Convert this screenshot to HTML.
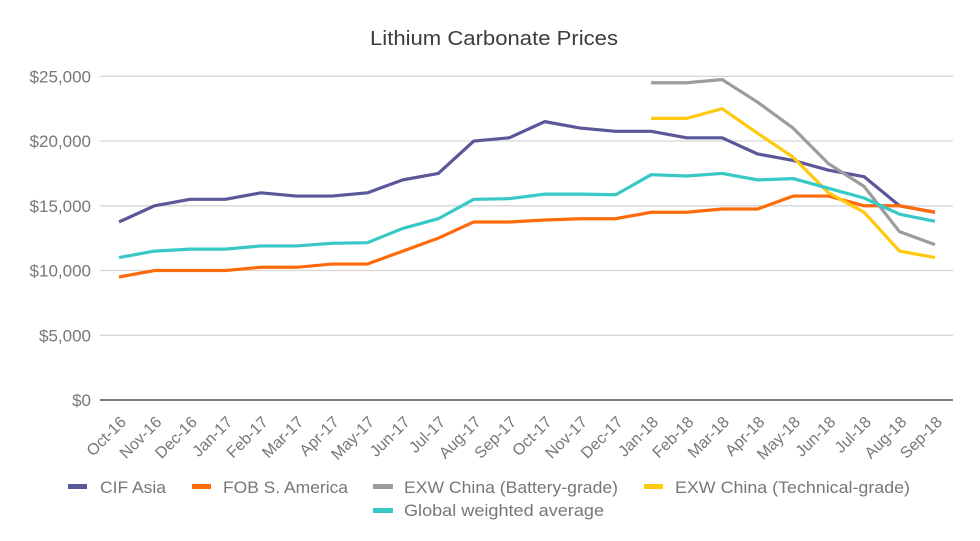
<!DOCTYPE html>
<html>
<head>
<meta charset="utf-8">
<style>
html,body{margin:0;padding:0;background:#fff;}
svg{display:block;font-family:"Liberation Sans",Arial,sans-serif;}
</style>
</head>
<body>
<svg width="980" height="541" viewBox="0 0 980 541" xmlns="http://www.w3.org/2000/svg">
<rect width="980" height="541" fill="#fff"/>
<text x="494" y="45" text-anchor="middle" font-size="20" fill="#3c3c3c" textLength="248" lengthAdjust="spacingAndGlyphs">Lithium Carbonate Prices</text>

<!-- gridlines -->
<g stroke="#d6d6d6" stroke-width="1.3">
<line x1="100" y1="76.3" x2="953" y2="76.3"/>
<line x1="100" y1="141" x2="953" y2="141"/>
<line x1="100" y1="205.8" x2="953" y2="205.8"/>
<line x1="100" y1="270.5" x2="953" y2="270.5"/>
<line x1="100" y1="335.3" x2="953" y2="335.3"/>
</g>
<line x1="100" y1="400" x2="953" y2="400" stroke="#7a7a7a" stroke-width="2"/>

<!-- y labels -->
<g font-size="17" fill="#777" text-anchor="end">
<text x="91" y="82.5">$25,000</text>
<text x="91" y="147.2">$20,000</text>
<text x="91" y="212">$15,000</text>
<text x="91" y="276.7">$10,000</text>
<text x="91" y="341.5">$5,000</text>
<text x="91" y="406.2">$0</text>
</g>

<!-- x labels -->
<g font-size="16" fill="#777" text-anchor="end">
<text transform="translate(127,423) rotate(-45)">Oct-16</text>
<text transform="translate(162.5,423) rotate(-45)">Nov-16</text>
<text transform="translate(198,423) rotate(-45)">Dec-16</text>
<text transform="translate(233.4,423) rotate(-45)">Jan-17</text>
<text transform="translate(268.9,423) rotate(-45)">Feb-17</text>
<text transform="translate(304.4,423) rotate(-45)">Mar-17</text>
<text transform="translate(339.9,423) rotate(-45)">Apr-17</text>
<text transform="translate(375.3,423) rotate(-45)">May-17</text>
<text transform="translate(410.8,423) rotate(-45)">Jun-17</text>
<text transform="translate(446.3,423) rotate(-45)">Jul-17</text>
<text transform="translate(481.8,423) rotate(-45)">Aug-17</text>
<text transform="translate(517.3,423) rotate(-45)">Sep-17</text>
<text transform="translate(552.7,423) rotate(-45)">Oct-17</text>
<text transform="translate(588.2,423) rotate(-45)">Nov-17</text>
<text transform="translate(623.7,423) rotate(-45)">Dec-17</text>
<text transform="translate(659.2,423) rotate(-45)">Jan-18</text>
<text transform="translate(694.6,423) rotate(-45)">Feb-18</text>
<text transform="translate(730.1,423) rotate(-45)">Mar-18</text>
<text transform="translate(765.6,423) rotate(-45)">Apr-18</text>
<text transform="translate(801.1,423) rotate(-45)">May-18</text>
<text transform="translate(836.5,423) rotate(-45)">Jun-18</text>
<text transform="translate(872,423) rotate(-45)">Jul-18</text>
<text transform="translate(907.5,423) rotate(-45)">Aug-18</text>
<text transform="translate(943,423) rotate(-45)">Sep-18</text>
</g>

<!-- series -->
<g transform="translate(119,400) scale(35.478,-0.012948)" fill="none" stroke-width="3.2" stroke-linejoin="round" stroke-linecap="butt">
<polyline vector-effect="non-scaling-stroke" stroke="#5b5899" points="0,13750 1,15000 2,15500 3,15500 4,16000 5,15750 6,15750 7,16000 8,17000 9,17500 10,20000 11,20250 12,21500 13,21000 14,20750 15,20750 16,20250 17,20250 18,19000 19,18500 20,17750 21,17250 22,15000 23,14500"/>
<polyline vector-effect="non-scaling-stroke" stroke="#ff6a0a" points="0,9500 1,10000 2,10000 3,10000 4,10250 5,10250 6,10500 7,10500 8,11500 9,12500 10,13750 11,13750 12,13900 13,14000 14,14000 15,14500 16,14500 17,14750 18,14750 19,15750 20,15750 21,15000 22,15000 23,14500"/>
<polyline vector-effect="non-scaling-stroke" stroke="#9c9c9c" points="15,24500 16,24500 17,24750 18,23000 19,21000 20,18250 21,16500 22,13000 23,12000"/>
<polyline vector-effect="non-scaling-stroke" stroke="#ffc90e" points="15,21750 16,21750 17,22500 18,20600 19,18750 20,16000 21,14500 22,11500 23,11000"/>
<polyline vector-effect="non-scaling-stroke" stroke="#38c9c6" points="0,11000 1,11500 2,11650 3,11650 4,11900 5,11900 6,12100 7,12150 8,13250 9,14000 10,15500 11,15550 12,15900 13,15900 14,15850 15,17400 16,17300 17,17500 18,17000 19,17100 20,16350 21,15600 22,14350 23,13800"/>
</g>

<!-- legend -->
<g font-size="17" fill="#777">
<rect x="68" y="484" width="19" height="5" fill="#5b5899"/>
<text x="100" y="493" textLength="66" lengthAdjust="spacingAndGlyphs">CIF Asia</text>
<rect x="192" y="484" width="19" height="5" fill="#ff6a0a"/>
<text x="223" y="493" textLength="125" lengthAdjust="spacingAndGlyphs">FOB S. America</text>
<rect x="373" y="484" width="20" height="5" fill="#9c9c9c"/>
<text x="404" y="493" textLength="214" lengthAdjust="spacingAndGlyphs">EXW China (Battery-grade)</text>
<rect x="644" y="484" width="19" height="5" fill="#ffc90e"/>
<text x="675" y="493" textLength="235" lengthAdjust="spacingAndGlyphs">EXW China (Technical-grade)</text>
<rect x="373" y="508" width="20" height="5" fill="#38c9c6"/>
<text x="404" y="516" textLength="200" lengthAdjust="spacingAndGlyphs">Global weighted average</text>
</g>
</svg>
</body>
</html>
